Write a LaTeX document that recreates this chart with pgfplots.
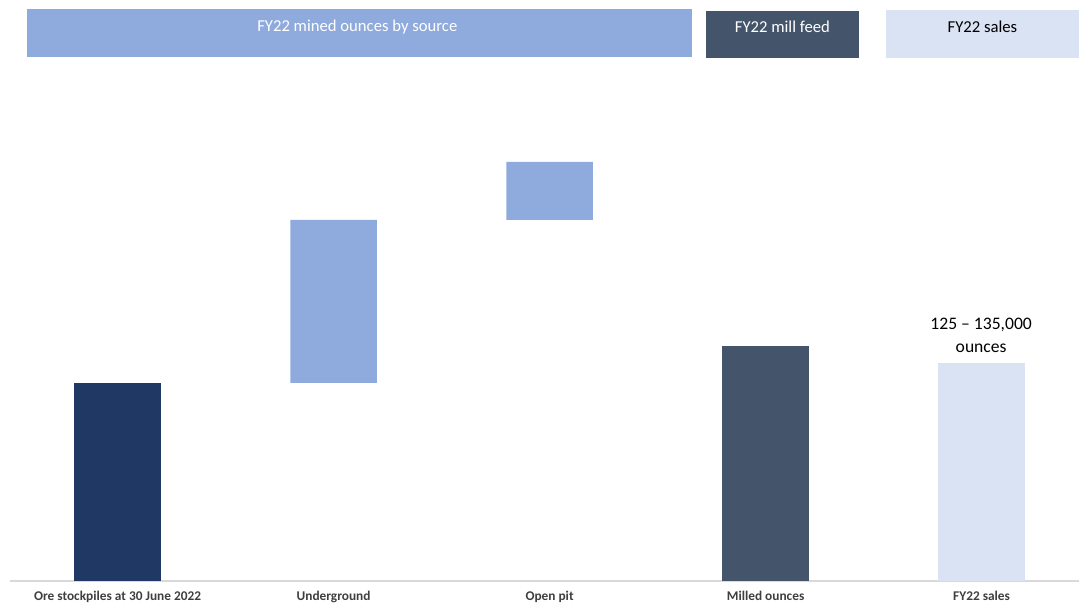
\documentclass[border=0pt]{standalone}
\usepackage{pgfplots}
\pgfplotsset{compat=1.18}
\usepackage{fontspec}
\setmainfont{Carlito}
\definecolor{navy}{HTML}{203864}
\definecolor{lblue}{HTML}{8FAADC}
\definecolor{slate}{HTML}{44546A}
\definecolor{pale}{HTML}{DAE3F3}
\definecolor{lgray}{HTML}{D9D9D9}
\definecolor{labgray}{HTML}{3F3F3F}
\begin{document}
\begin{tikzpicture}
\useasboundingbox (-7.5pt,-18pt) rectangle (801.75pt,435.75pt);
\begin{axis}[
  scale only axis,
  width=801.75pt, height=435.75pt,
  xmin=-0.498, xmax=4.451,
  ymin=0, ymax=581,
  ybar stacked,
  bar width=0.40,
  axis x line*=bottom,
  axis y line=none,
  x axis line style={draw=lgray, line width=0.9pt},
  xtick={0,1,2,3,4},
  xticklabels={Ore stockpiles at 30 June 2022, Underground, Open pit, Milled ounces, FY22 sales},
  major tick length=0pt,
  xticklabel style={anchor=base, yshift=-15pt, font=\fontsize{10}{12}\selectfont\bfseries, text=labgray},
  ytick=\empty,
  clip=false,
]
\addplot[fill=none, draw=none] coordinates {(0,0) (1,198) (2,361) (3,0) (4,0)};
\addplot[fill=navy, draw=none] coordinates {(0,198) (1,0) (2,0) (3,0) (4,0)};
\addplot[fill=lblue, draw=none] coordinates {(0,0) (1,163) (2,58) (3,0) (4,0)};
\addplot[fill=slate, draw=none] coordinates {(0,0) (1,0) (2,0) (3,235) (4,0)};
\addplot[fill=pale, draw=none] coordinates {(0,0) (1,0) (2,0) (3,0) (4,218)};

\coordinate (a1) at (axis cs:-0.419,524);
\coordinate (a2) at (axis cs:2.660,572);
\coordinate (b1) at (axis cs:2.724,523);
\coordinate (b2) at (axis cs:3.433,570);
\coordinate (c1) at (axis cs:3.557,523);
\coordinate (c2) at (axis cs:4.451,571);
\coordinate (ta) at (axis cs:1.11,554);
\coordinate (tb) at (axis cs:3.078,554);
\coordinate (tc) at (axis cs:4.004,554);
\node[text=black, align=center, font=\fontsize{13.2}{17.25}\selectfont] at (axis cs:3.998,245.5) {125 – 135,000\\ounces};
\end{axis}
\fill[lblue] (a1) rectangle (a2);
\fill[slate] (b1) rectangle (b2);
\fill[pale] (c1) rectangle (c2);
\node[text=white, font=\fontsize{12.5}{15}\selectfont] at (ta) {FY22 mined ounces by source};
\node[text=white, font=\fontsize{12.5}{15}\selectfont] at (tb) {FY22 mill feed};
\node[text=black, font=\fontsize{12.5}{15}\selectfont] at (tc) {FY22 sales};
\end{tikzpicture}
\end{document}
